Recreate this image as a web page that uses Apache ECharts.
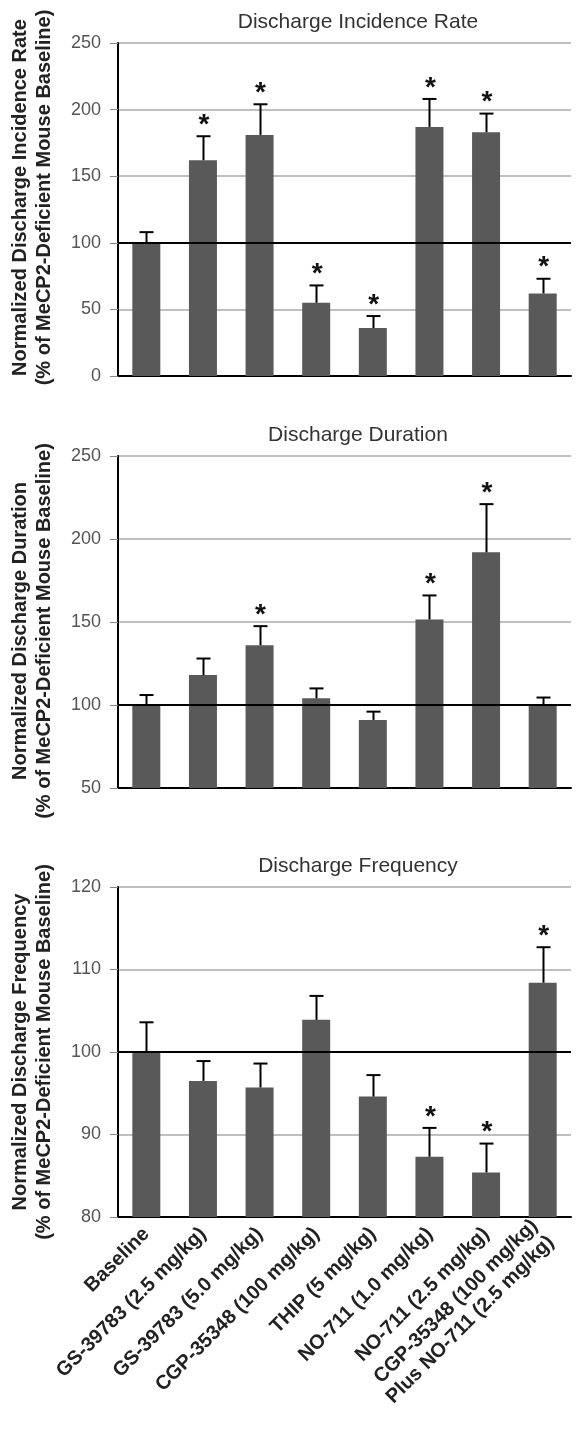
<!DOCTYPE html>
<html>
<head>
<meta charset="utf-8">
<script src="https://cdn.jsdelivr.net/npm/echarts@6/dist/echarts.min.js"></script>
<style>
  html, body { margin: 0; padding: 0; background: #fff; }
  #chart { width: 583px; height: 1429px; }
</style>
</head>
<body>
<div id="chart"></div>
<script>
  // categories
  const categories = [
    "Baseline",
    "GS-39783 (2.5 mg/kg)",
    "GS-39783 (5.0 mg/kg)",
    "CGP-35348 (100 mg/kg)",
    "THIP (5 mg/kg)",
    "NO-711 (1.0 mg/kg)",
    "NO-711 (2.5 mg/kg)",
    "CGP-35348 (100 mg/kg)\nPlus NO-711 (2.5 mg/kg)"
  ];

  // Discharge incidence rate: mean, top of error bar, significant
  const rateMean = [100, 162, 181, 55, 36, 187, 183, 62];
  const rateErrTop = [108, 180, 204, 68, 45, 208, 197, 73];
  const rateSig = [0, 1, 1, 1, 1, 1, 1, 1];

  // Discharge duration
  const durMean = [100, 118, 136, 104, 91, 151.5, 192, 100];
  const durErrTop = [106, 128, 147.5, 110, 96, 166, 221, 104.5];
  const durSig = [0, 0, 1, 0, 0, 1, 1, 0];

  // Discharge frequency
  const freqMean = [100, 96.5, 95.7, 103.9, 94.6, 87.3, 85.4, 108.4];
  const freqErrTop = [103.6, 98.9, 98.6, 106.8, 97.2, 90.8, 88.9, 112.7];
  const freqSig = [0, 0, 0, 0, 0, 1, 1, 1];

  // y axis ticks: min, max, step
  const rateTicks = [0, 250, 50];
  const durTicks = [50, 250, 50];
  const freqTicks = [80, 120, 10];

  const titles = ["Discharge Incidence Rate", "Discharge Duration", "Discharge Frequency"];
  const yNames = [
    "Normalized Discharge Incidence Rate\n(% of MeCP2-Deficient Mouse Baseline)",
    "Normalized Discharge Duration\n(% of MeCP2-Deficient Mouse Baseline)",
    "Normalized Discharge Frequency\n(% of MeCP2-Deficient Mouse Baseline)"
  ];

  const FONT = "Liberation Sans, Arial, sans-serif";
  const BAR = "#595959";

  const panels = [
    { mean: rateMean, err: rateErrTop, sig: rateSig, ticks: rateTicks, top: 43, height: 333, namePad: [0, 0, 0, 24] },
    { mean: durMean, err: durErrTop, sig: durSig, ticks: durTicks, top: 456, height: 332, namePad: [0, 18, 0, 0] },
    { mean: freqMean, err: freqErrTop, sig: freqSig, ticks: freqTicks, top: 887, height: 330, namePad: 0 }
  ];

  const chart = echarts.init(document.getElementById("chart"));

  const grid = [], xAxis = [], yAxis = [], series = [], title = [];

  panels.forEach((p, i) => {
    grid.push({ left: 116, right: 12, top: p.top, height: p.height });

    title.push({
      text: titles[i],
      left: 353,
      top: p.top - 36,
      textAlign: "center",
      textStyle: { fontFamily: FONT, fontSize: 21, fontWeight: "normal", color: "#333" }
    });

    xAxis.push({
      type: "category",
      gridIndex: i,
      data: categories,
      axisLine: { lineStyle: { color: "#000", width: 2 } },
      axisTick: { show: false },
      axisLabel: i === 2 ? {
        show: true,
        interval: 0,
        rotate: 45,
        margin: 14,
        fontFamily: FONT,
        fontSize: 20,
        fontWeight: "bold",
        color: "#222",
        lineHeight: 23
      } : { show: false }
    });

    yAxis.push({
      type: "value",
      gridIndex: i,
      min: p.ticks[0],
      max: p.ticks[1],
      interval: p.ticks[2],
      name: yNames[i],
      nameLocation: "middle",
      nameGap: 62,
      nameTextStyle: {
        fontFamily: FONT, fontSize: 20, fontWeight: "bold", color: "#222",
        lineHeight: 24, padding: p.namePad
      },
      axisLine: { show: true, lineStyle: { color: "#000", width: 2 } },
      axisTick: { show: true, length: 8, lineStyle: { color: "#888" } },
      axisLabel: { fontFamily: FONT, fontSize: 18, color: "#555", margin: 17 },
      splitLine: { lineStyle: { color: "#aaa", width: 1.5 } }
    });

    series.push({
      type: "bar",
      xAxisIndex: i,
      yAxisIndex: i,
      data: p.mean,
      barWidth: 28,
      itemStyle: { color: BAR },
      markLine: {
        silent: true,
        symbol: "none",
        label: { show: false },
        lineStyle: { color: "#000", width: 2, type: "solid" },
        data: [{ yAxis: 100 }]
      }
    });

    // 误差线 (upper half only)
    series.push({
      type: "custom",
      xAxisIndex: i,
      yAxisIndex: i,
      z: 3,
      data: p.mean.map((m, k) => [k, m, p.err[k]]),
      renderItem: (params, api) => {
        const base = api.coord([api.value(0), api.value(1)]);
        const top = api.coord([api.value(0), api.value(2)]);
        const x = Math.round(base[0]) + 0.5;
        return {
          type: "group",
          children: [
            { type: "line", shape: { x1: x, y1: base[1], x2: x, y2: top[1] }, style: { stroke: "#000", lineWidth: 2 } },
            { type: "line", shape: { x1: x - 7, y1: top[1], x2: x + 7, y2: top[1] }, style: { stroke: "#000", lineWidth: 2 } }
          ]
        };
      }
    });

    // 显著性星号
    series.push({
      type: "custom",
      xAxisIndex: i,
      yAxisIndex: i,
      z: 4,
      data: p.err.map((e, k) => [k, e, p.sig[k]]),
      renderItem: (params, api) => {
        if (!api.value(2)) return null;
        const pt = api.coord([api.value(0), api.value(1)]);
        return {
          type: "text",
          style: {
            text: "*",
            x: pt[0] + 1,
            y: pt[1] + 3,
            align: "center",
            verticalAlign: "bottom",
            font: "bold 28px " + FONT,
            fill: "#111"
          }
        };
      }
    });
  });

  chart.setOption({
    animation: false,
    title: title,
    grid: grid,
    xAxis: xAxis,
    yAxis: yAxis,
    series: series
  });
</script>
</body>
</html>
